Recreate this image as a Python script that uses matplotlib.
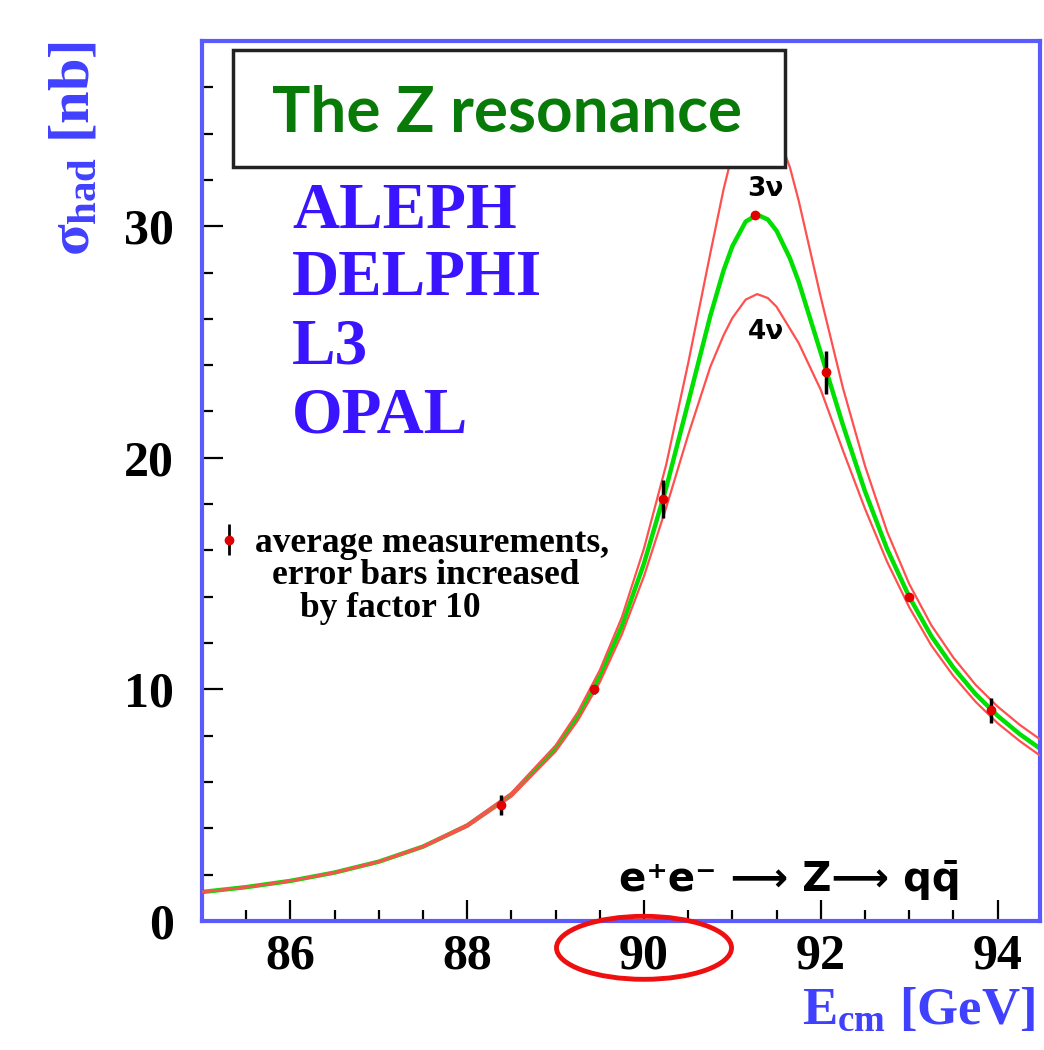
import matplotlib
matplotlib.use('Agg')
import matplotlib.pyplot as plt
from matplotlib.patches import Rectangle, Ellipse
from matplotlib.ticker import MultipleLocator

plt.rcParams['mathtext.fontset'] = 'custom'
plt.rcParams['mathtext.rm'] = 'Liberation Serif:bold'
plt.rcParams['mathtext.it'] = 'Liberation Serif:bold'
plt.rcParams['mathtext.bf'] = 'Liberation Serif:bold'

# line shapes
e_curve = [85.0, 85.5, 86.0, 86.5, 87.0, 87.5, 88.0, 88.5, 89.0, 89.25, 89.5, 89.75,
           90.0, 90.25, 90.5, 90.75, 90.9, 91.0, 91.15, 91.28, 91.4, 91.5, 91.65, 91.75,
           92.0, 92.25, 92.5, 92.75, 93.0, 93.25, 93.5, 93.75, 94.0, 94.25, 94.5]
sigma_3nu = [1.25, 1.46, 1.73, 2.09, 2.56, 3.21, 4.12, 5.45, 7.45, 8.83, 10.57, 12.74,
             15.44, 18.69, 22.39, 26.13, 28.09, 29.14, 30.20, 30.50, 30.29, 29.80, 28.62, 27.60,
             24.53, 21.42, 18.55, 16.06, 14.00, 12.30, 10.94, 9.80, 8.86, 8.07, 7.39]
sigma_2nu = [1.26, 1.47, 1.74, 2.11, 2.58, 3.24, 4.17, 5.53, 7.58, 9.01, 10.83, 13.12,
             16.09, 19.69, 24.09, 28.83, 31.59, 33.14, 34.60, 35.00, 34.72, 34.09, 32.55, 31.10,
             26.93, 23.02, 19.65, 16.81, 14.55, 12.77, 11.37, 10.20, 9.26, 8.47, 7.79]
sigma_4nu = [1.24, 1.45, 1.72, 2.07, 2.54, 3.18, 4.07, 5.37, 7.32, 8.65, 10.31, 12.38,
             14.89, 17.84, 20.99, 23.93, 25.29, 26.04, 26.83, 27.07, 26.90, 26.52, 25.58, 24.95,
             22.93, 20.32, 17.80, 15.51, 13.55, 11.90, 10.58, 9.47, 8.54, 7.77, 7.09]

# measurements (error bars x10)
e_meas = [88.38, 89.43, 90.21, 91.25, 92.06, 93.0, 93.93]
sigma_meas = [5.0, 10.0, 18.2, 30.5, 23.7, 14.0, 9.1]
sigma_err = [0.43, 0.2, 0.82, 0.12, 0.93, 0.15, 0.54]

experiments = ['ALEPH', 'DELPHI', 'L3', 'OPAL']
legend_lines = ['average measurements,', 'error bars increased', 'by factor 10']

frame_blue = '#5a5aff'
label_blue = '#4040ff'
exp_blue = '#3a14ff'

fig = plt.figure(figsize=(10.44, 10.5), dpi=100)
ax = fig.add_axes([0.1935, 0.1229, 0.8027, 0.8381])

ax.plot(e_curve, sigma_3nu, color='#00e000', lw=3.2, zorder=2)
ax.plot(e_curve, sigma_2nu, color='#ff5050', lw=1.6, zorder=3)
ax.plot(e_curve, sigma_4nu, color='#ff5050', lw=1.6, zorder=3)

ax.errorbar(e_meas, sigma_meas, yerr=sigma_err, fmt='o', color='#e00000', ms=6,
            ecolor='black', elinewidth=2.5, capsize=0, zorder=4)

ax.set_xlim(85, 94.48)
ax.set_ylim(0, 38)
ax.xaxis.set_major_locator(MultipleLocator(2))
ax.xaxis.set_minor_locator(MultipleLocator(0.5))
ax.yaxis.set_major_locator(MultipleLocator(10))
ax.yaxis.set_minor_locator(MultipleLocator(2))
ax.tick_params(which='both', direction='in', color='black', width=1.6, top=False, right=False)
ax.tick_params(which='major', length=15)
ax.tick_params(which='minor', length=8)
ax.tick_params(axis='x', pad=9)
ax.tick_params(axis='y', pad=20)
for lab in ax.get_xticklabels() + ax.get_yticklabels():
    lab.set_fontfamily('Liberation Serif')
    lab.set_fontweight('bold')
    lab.set_fontsize(36)
for sp in ax.spines.values():
    sp.set_color(frame_blue)
    sp.set_linewidth(3)

# axis titles
fig.text(0.072, 0.961, r'$\sigma_{\rm had}$ [nb]', rotation=90, ha='center', va='top',
         fontsize=42, color=label_blue, family='Liberation Serif', weight='bold')
fig.text(0.991, 0.025, r'E$_{\rm cm}$ [GeV]', ha='right', va='baseline',
         fontsize=38, color=label_blue, family='Liberation Serif', weight='bold')

# title box
ax.add_patch(Rectangle((0.037, 0.857), 0.659, 0.133, transform=ax.transAxes,
                       facecolor='white', edgecolor='#222222', lw=2.5, zorder=5))
ax.text(0.364, 0.918, 'The Z resonance', transform=ax.transAxes, ha='center', va='center',
        fontsize=46, color='#087a08', family='Lato', weight='bold', zorder=6)

exp_y = [0.7875, 0.7114, 0.634, 0.5545]
for name, y in zip(experiments, exp_y):
    ax.text(0.1074, y, name, transform=ax.transAxes, ha='left', va='baseline',
            fontsize=47, color=exp_blue, family='Liberation Serif', weight='bold')

# legend for the measurements
ax.errorbar([85.3], [16.47], yerr=[0.67], fmt='o', color='#e00000', ms=6,
            ecolor='black', elinewidth=2, capsize=0, zorder=4)
leg_x = [0.0632, 0.0835, 0.117]
leg_y = [0.4193, 0.3830, 0.3455]
for line, x, y in zip(legend_lines, leg_x, leg_y):
    ax.text(x, y, line, transform=ax.transAxes, ha='left', va='baseline',
            fontsize=25.5, color='black', family='Liberation Serif', weight='bold')

ax.text(91.37, 31.6, '3ν', ha='center', va='center', fontsize=19,
        family='DejaVu Sans', weight='bold', zorder=6)
ax.text(91.38, 25.45, '4ν', ha='center', va='center', fontsize=19,
        family='DejaVu Sans', weight='bold', zorder=6)

ax.text(0.905, 0.047, 'e\u207ae\u207b \u27f6 Z\u27f6 qq\u0304', transform=ax.transAxes,
        ha='right', va='center', fontsize=29, family='DejaVu Sans', weight='bold')

ax.add_patch(Ellipse((90.0, -1.16), 1.98, 2.72, facecolor='none', edgecolor='#ee1010',
                     lw=3.5, clip_on=False, zorder=10))

plt.savefig('out.png', dpi=100)
